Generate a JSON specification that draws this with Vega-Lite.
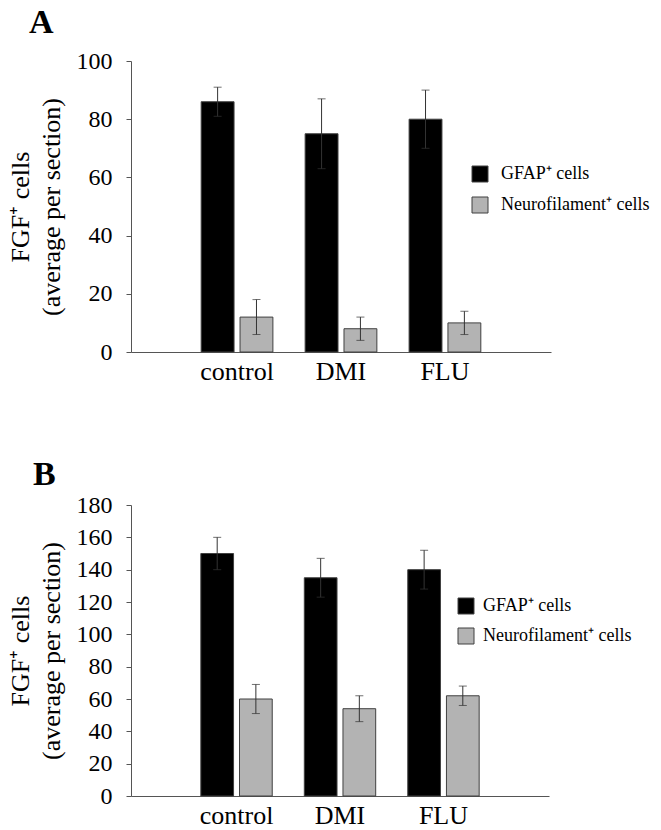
{
  "$schema": "https://vega.github.io/schema/vega-lite/v6.json",
  "padding": {"left": 7, "top": 6, "right": 0, "bottom": 0},
  "background": "white",
  "config": {
    "view": {"stroke": null},
    "font": "Liberation Serif",
    "axis": {"grid": false, "domainColor": "#555555", "tickColor": "#555555", "labelColor": "#000000", "titleColor": "#000000", "labelFont": "Liberation Serif", "titleFont": "Liberation Serif", "labelOverlap": false},
    "axisY": {"labelOverlap": false, "labelSeparation": 0},
    "legend": {"labelFont": "Liberation Serif", "labelColor": "#000000"},
    "title": {"font": "Liberation Serif", "color": "#000000"}
  },
  "datasets": {
    "a": [
      {"group": "control", "cell": "GFAP⁺ cells", "value": 86, "lo": 81, "hi": 91},
      {"group": "control", "cell": "Neurofilament⁺ cells", "value": 12, "lo": 6, "hi": 18},
      {"group": "DMI", "cell": "GFAP⁺ cells", "value": 75, "lo": 63, "hi": 87},
      {"group": "DMI", "cell": "Neurofilament⁺ cells", "value": 8, "lo": 4, "hi": 12},
      {"group": "FLU", "cell": "GFAP⁺ cells", "value": 80, "lo": 70, "hi": 90},
      {"group": "FLU", "cell": "Neurofilament⁺ cells", "value": 10, "lo": 6, "hi": 14}
    ],
    "b": [
      {"group": "control", "cell": "GFAP⁺ cells", "value": 150, "lo": 140, "hi": 160},
      {"group": "control", "cell": "Neurofilament⁺ cells", "value": 60, "lo": 51, "hi": 69},
      {"group": "DMI", "cell": "GFAP⁺ cells", "value": 135, "lo": 123, "hi": 147},
      {"group": "DMI", "cell": "Neurofilament⁺ cells", "value": 54, "lo": 46, "hi": 62},
      {"group": "FLU", "cell": "GFAP⁺ cells", "value": 140, "lo": 128, "hi": 152},
      {"group": "FLU", "cell": "Neurofilament⁺ cells", "value": 62, "lo": 56, "hi": 68}
    ]
  },
  "spacing": 74,
  "resolve": {"scale": {"color": "independent", "y": "independent", "x": "independent", "xOffset": "independent"}, "legend": {"color": "independent"}},
  "vconcat": [
    {
      "title": {"text": "A", "anchor": "start", "frame": "bounds", "fontSize": 34, "fontWeight": "bold", "dx": 22, "offset": 9},
      "width": 420,
      "height": 291,
      "data": {"name": "a"},
      "encoding": {
        "x": {"field": "group", "type": "nominal", "sort": ["control", "DMI", "FLU"],
          "scale": {"paddingInner": 0.31, "paddingOuter": 0.675},
          "axis": {"title": null, "labelAngle": 0, "ticks": false, "labelFontSize": 26, "labelPadding": 6}},
        "xOffset": {"field": "cell", "type": "nominal", "scale": {"paddingInner": 0.154, "paddingOuter": 0}}
      },
      "layer": [
        {
          "mark": {"type": "bar", "stroke": "#404040", "strokeWidth": 1},
          "encoding": {
            "y": {"field": "value", "type": "quantitative",
              "scale": {"domain": [0, 100], "nice": false},
              "axis": {"values": [0, 20, 40, 60, 80, 100], "labelOverlap": false, "tickSize": 5, "labelFontSize": 24, "labelPadding": 14,
                "title": ["FGF⁺ cells", "(average per section)"], "titleFontSize": 26, "titleFontWeight": "normal", "titleLineHeight": 31, "titlePadding": 12}},
            "color": {"field": "cell", "type": "nominal",
              "scale": {"domain": ["GFAP⁺ cells", "Neurofilament⁺ cells"], "range": ["#000000", "#b3b3b3"]},
              "legend": {"title": null, "orient": "none", "legendX": 340, "legendY": 104, "padding": 0,
                "symbolType": "square", "symbolSize": 256, "symbolStrokeColor": "#404040", "symbolStrokeWidth": 1,
                "labelFontSize": 18, "labelOffset": 12, "rowPadding": 11}}
          }
        },
        {
          "mark": {"type": "rule", "color": "#333333", "strokeWidth": 1},
          "encoding": {"y": {"field": "lo", "type": "quantitative", "axis": {"values": [0, 20, 40, 60, 80, 100], "labelOverlap": false, "tickSize": 5, "labelFontSize": 24, "labelPadding": 14,
                "title": ["FGF⁺ cells", "(average per section)"], "titleFontSize": 26, "titleFontWeight": "normal", "titleLineHeight": 31, "titlePadding": 12}}, "y2": {"field": "hi"}}
        },
        {
          "mark": {"type": "tick", "color": "#333333", "thickness": 1, "size": 8},
          "encoding": {"y": {"field": "hi", "type": "quantitative", "axis": {"values": [0, 20, 40, 60, 80, 100], "labelOverlap": false, "tickSize": 5, "labelFontSize": 24, "labelPadding": 14,
                "title": ["FGF⁺ cells", "(average per section)"], "titleFontSize": 26, "titleFontWeight": "normal", "titleLineHeight": 31, "titlePadding": 12}}}
        },
        {
          "mark": {"type": "tick", "color": "#333333", "thickness": 1, "size": 8},
          "encoding": {"y": {"field": "lo", "type": "quantitative", "axis": {"values": [0, 20, 40, 60, 80, 100], "labelOverlap": false, "tickSize": 5, "labelFontSize": 24, "labelPadding": 14,
                "title": ["FGF⁺ cells", "(average per section)"], "titleFontSize": 26, "titleFontWeight": "normal", "titleLineHeight": 31, "titlePadding": 12}}}
        }
      ]
    },
    {
      "title": {"text": "B", "anchor": "start", "frame": "bounds", "fontSize": 34, "fontWeight": "bold", "dx": 26, "offset": 1},
      "width": 418,
      "height": 291,
      "data": {"name": "b"},
      "encoding": {
        "x": {"field": "group", "type": "nominal", "sort": ["control", "DMI", "FLU"],
          "scale": {"paddingInner": 0.31, "paddingOuter": 0.675},
          "axis": {"title": null, "labelAngle": 0, "ticks": false, "labelFontSize": 26, "labelPadding": 6}},
        "xOffset": {"field": "cell", "type": "nominal", "scale": {"paddingInner": 0.154, "paddingOuter": 0}}
      },
      "layer": [
        {
          "mark": {"type": "bar", "stroke": "#404040", "strokeWidth": 1},
          "encoding": {
            "y": {"field": "value", "type": "quantitative",
              "scale": {"domain": [0, 180], "nice": false},
              "axis": {"values": [0, 20, 40, 60, 80, 100, 120, 140, 160, 180], "labelOverlap": false, "tickSize": 5, "labelFontSize": 24, "labelPadding": 14,
                "title": ["FGF⁺ cells", "(average per section)"], "titleFontSize": 26, "titleFontWeight": "normal", "titleLineHeight": 31, "titlePadding": 12}},
            "color": {"field": "cell", "type": "nominal",
              "scale": {"domain": ["GFAP⁺ cells", "Neurofilament⁺ cells"], "range": ["#000000", "#b3b3b3"]},
              "legend": {"title": null, "orient": "none", "legendX": 326, "legendY": 92, "padding": 0,
                "symbolType": "square", "symbolSize": 256, "symbolStrokeColor": "#404040", "symbolStrokeWidth": 1,
                "labelFontSize": 18, "labelOffset": 8, "rowPadding": 10}}
          }
        },
        {
          "mark": {"type": "rule", "color": "#333333", "strokeWidth": 1},
          "encoding": {"y": {"field": "lo", "type": "quantitative", "axis": {"values": [0, 20, 40, 60, 80, 100, 120, 140, 160, 180], "labelOverlap": false, "tickSize": 5, "labelFontSize": 24, "labelPadding": 14,
                "title": ["FGF⁺ cells", "(average per section)"], "titleFontSize": 26, "titleFontWeight": "normal", "titleLineHeight": 31, "titlePadding": 12}}, "y2": {"field": "hi"}}
        },
        {
          "mark": {"type": "tick", "color": "#333333", "thickness": 1, "size": 8},
          "encoding": {"y": {"field": "hi", "type": "quantitative", "axis": {"values": [0, 20, 40, 60, 80, 100, 120, 140, 160, 180], "labelOverlap": false, "tickSize": 5, "labelFontSize": 24, "labelPadding": 14,
                "title": ["FGF⁺ cells", "(average per section)"], "titleFontSize": 26, "titleFontWeight": "normal", "titleLineHeight": 31, "titlePadding": 12}}}
        },
        {
          "mark": {"type": "tick", "color": "#333333", "thickness": 1, "size": 8},
          "encoding": {"y": {"field": "lo", "type": "quantitative", "axis": {"values": [0, 20, 40, 60, 80, 100, 120, 140, 160, 180], "labelOverlap": false, "tickSize": 5, "labelFontSize": 24, "labelPadding": 14,
                "title": ["FGF⁺ cells", "(average per section)"], "titleFontSize": 26, "titleFontWeight": "normal", "titleLineHeight": 31, "titlePadding": 12}}}
        }
      ]
    }
  ]
}
